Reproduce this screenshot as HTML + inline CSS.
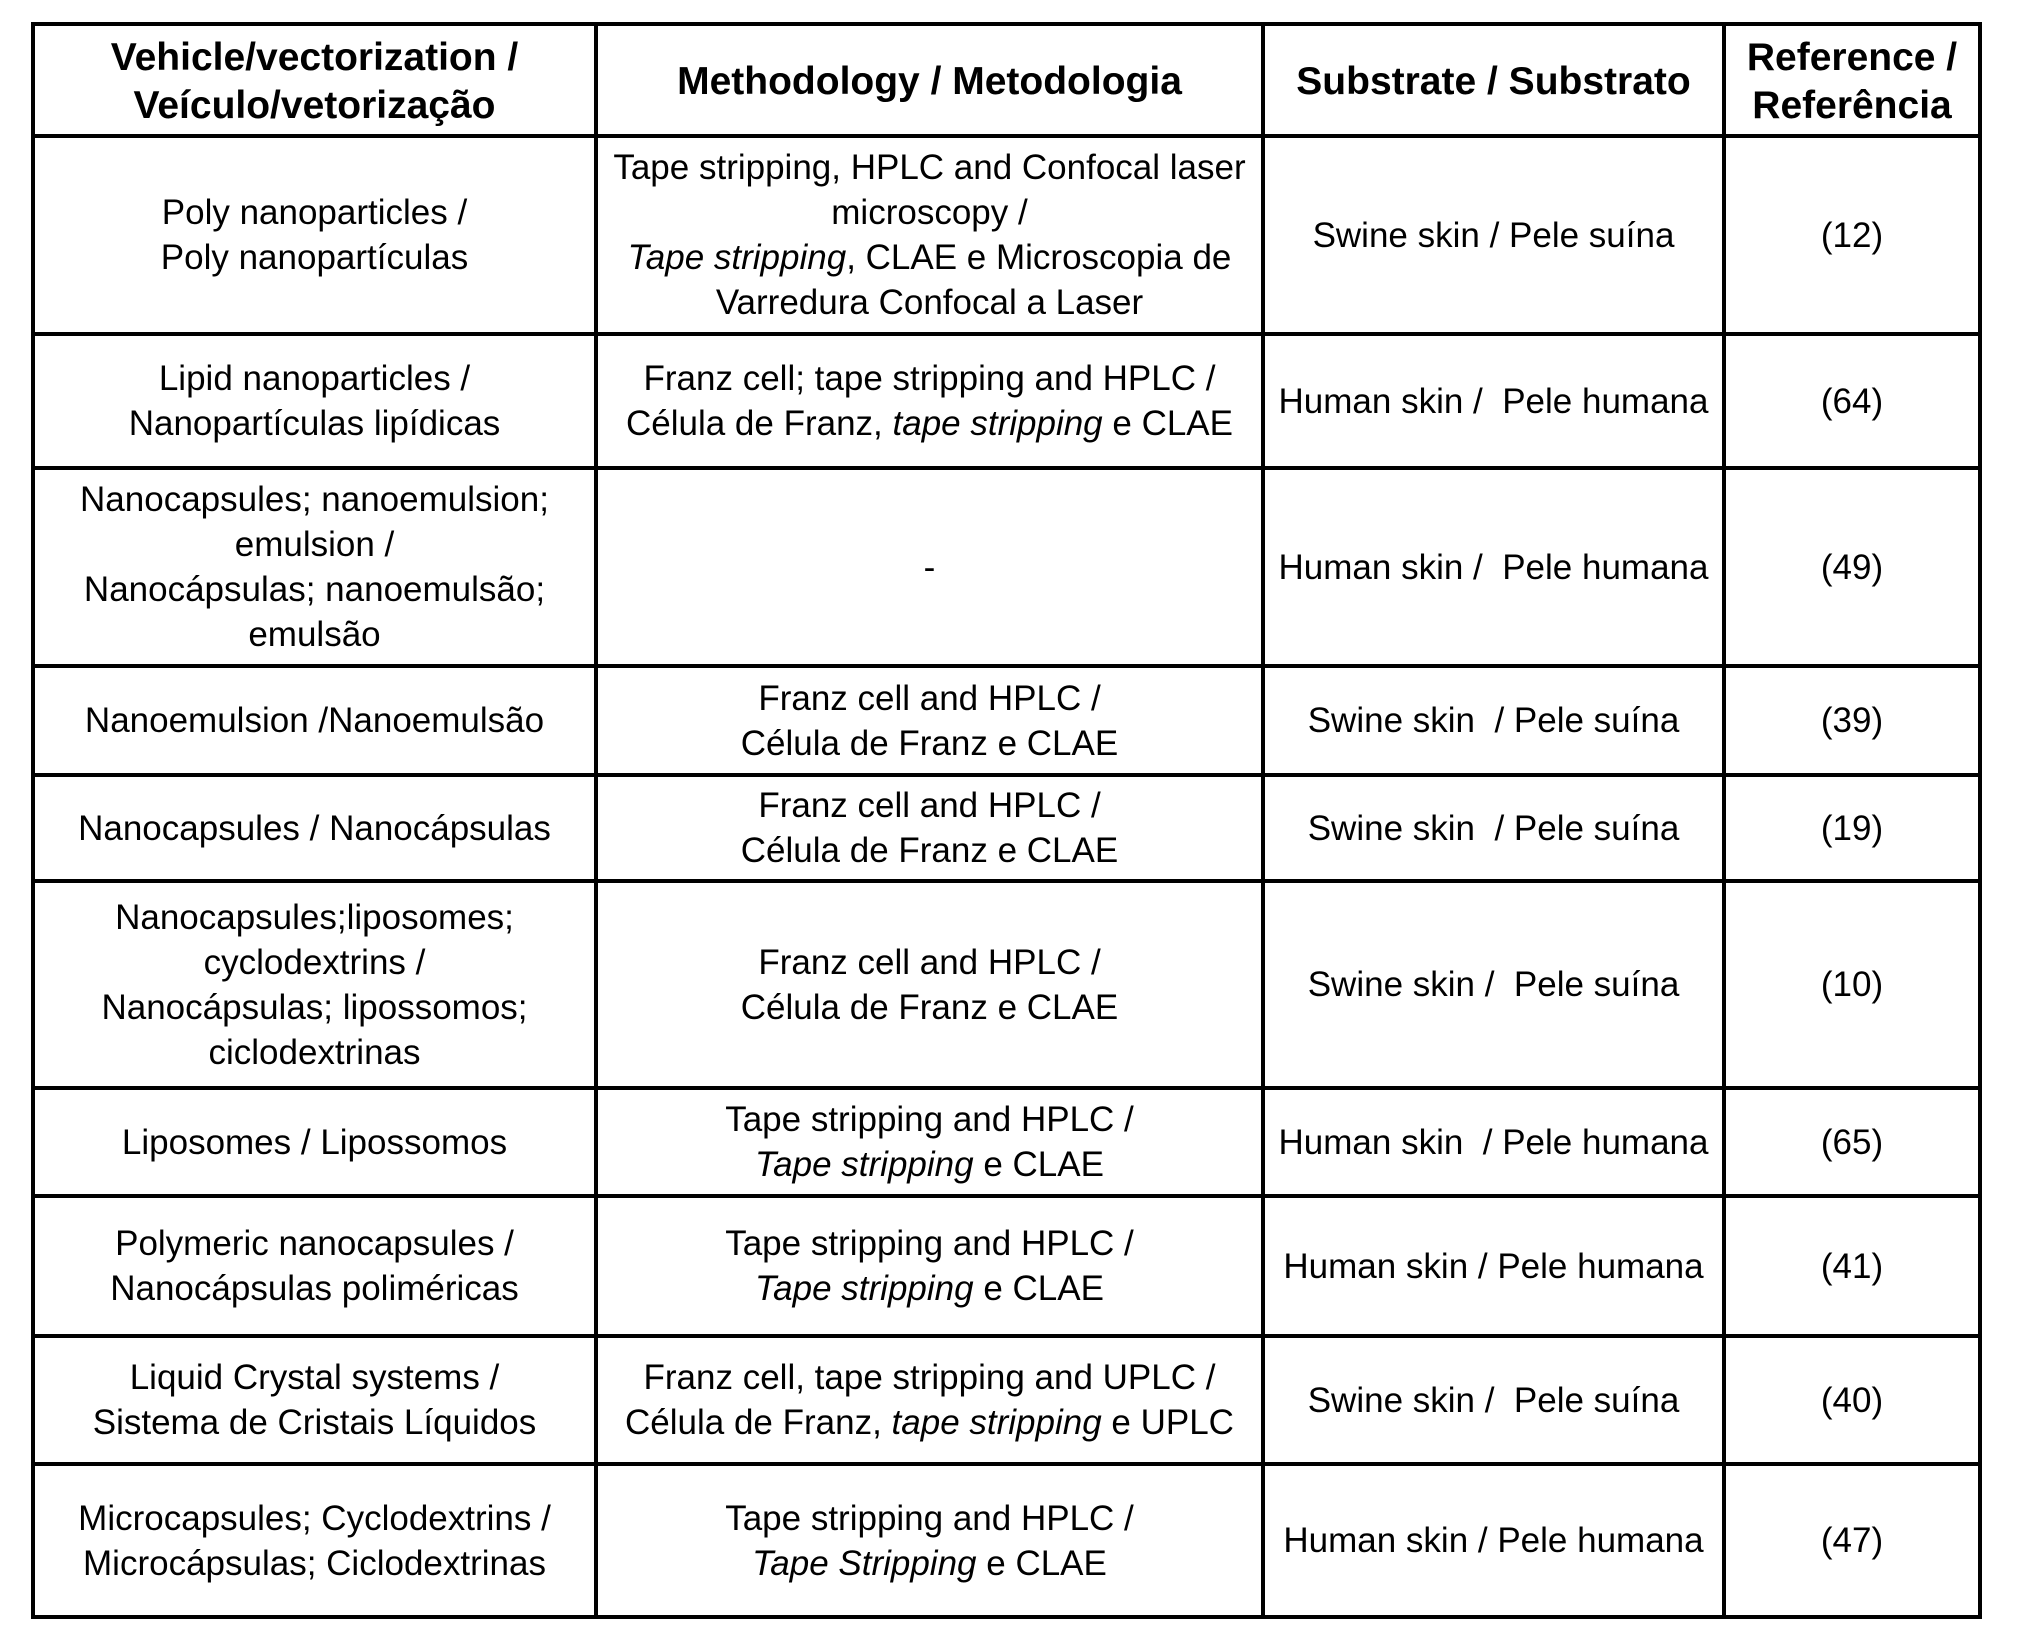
<!DOCTYPE html>
<html><head><meta charset="utf-8"><style>
html,body{margin:0;padding:0;background:#fff;width:2017px;height:1649px;overflow:hidden}
table{position:absolute;left:31px;top:22px;border-collapse:collapse;table-layout:fixed;width:1947px;
font-family:"Liberation Sans",sans-serif;font-size:35px;line-height:45px;color:#000}
td,th{border:4px solid #000;text-align:center;vertical-align:middle;padding:0 4px;letter-spacing:0}
th{font-size:39px;font-weight:bold;letter-spacing:0;line-height:48px;padding-top:3px}
</style></head><body>
<table>
<colgroup><col style="width:563px"><col style="width:667px"><col style="width:461px"><col style="width:256px"></colgroup>
<tr style="height:112px"><th>Vehicle/vectorization /<br>Veículo/vetorização</th><th>Methodology / Metodologia</th><th>Substrate / Substrato</th><th>Reference /<br>Referência</th></tr>
<tr style="height:198px"><td>Poly nanoparticles /<br>Poly nanopartículas</td><td>Tape stripping, HPLC and Confocal laser<br>microscopy /<br><i>Tape stripping</i>, CLAE e Microscopia de<br>Varredura Confocal a Laser</td><td>Swine skin / Pele suína</td><td>(12)</td></tr>
<tr style="height:134px"><td>Lipid nanoparticles /<br>Nanopartículas lipídicas</td><td>Franz cell; tape stripping and HPLC /<br>Célula de Franz, <i>tape stripping</i> e CLAE</td><td>Human skin / &nbsp;Pele humana</td><td>(64)</td></tr>
<tr style="height:198px"><td>Nanocapsules; nanoemulsion;<br>emulsion /<br>Nanocápsulas; nanoemulsão;<br>emulsão</td><td>-</td><td>Human skin / &nbsp;Pele humana</td><td>(49)</td></tr>
<tr style="height:109px"><td>Nanoemulsion /Nanoemulsão</td><td>Franz cell and HPLC /<br>Célula de Franz e CLAE</td><td>Swine skin &nbsp;/ Pele suína</td><td>(39)</td></tr>
<tr style="height:106px"><td>Nanocapsules / Nanocápsulas</td><td>Franz cell and HPLC /<br>Célula de Franz e CLAE</td><td>Swine skin &nbsp;/ Pele suína</td><td>(19)</td></tr>
<tr style="height:207px"><td>Nanocapsules;liposomes;<br>cyclodextrins /<br>Nanocápsulas; lipossomos;<br>ciclodextrinas</td><td>Franz cell and HPLC /<br>Célula de Franz e CLAE</td><td>Swine skin / &nbsp;Pele suína</td><td>(10)</td></tr>
<tr style="height:108px"><td>Liposomes / Lipossomos</td><td>Tape stripping and HPLC /<br><i>Tape stripping</i> e CLAE</td><td>Human skin &nbsp;/ Pele humana</td><td>(65)</td></tr>
<tr style="height:140px"><td>Polymeric nanocapsules /<br>Nanocápsulas poliméricas</td><td>Tape stripping and HPLC /<br><i>Tape stripping</i> e CLAE</td><td>Human skin / Pele humana</td><td>(41)</td></tr>
<tr style="height:128px"><td>Liquid Crystal systems /<br>Sistema de Cristais Líquidos</td><td>Franz cell, tape stripping and UPLC /<br>Célula de Franz, <i>tape stripping</i> e UPLC</td><td>Swine skin / &nbsp;Pele suína</td><td>(40)</td></tr>
<tr style="height:153px"><td>Microcapsules; Cyclodextrins /<br>Microcápsulas; Ciclodextrinas</td><td>Tape stripping and HPLC /<br><i>Tape Stripping</i> e CLAE</td><td>Human skin / Pele humana</td><td>(47)</td></tr>
</table>
</body></html>
